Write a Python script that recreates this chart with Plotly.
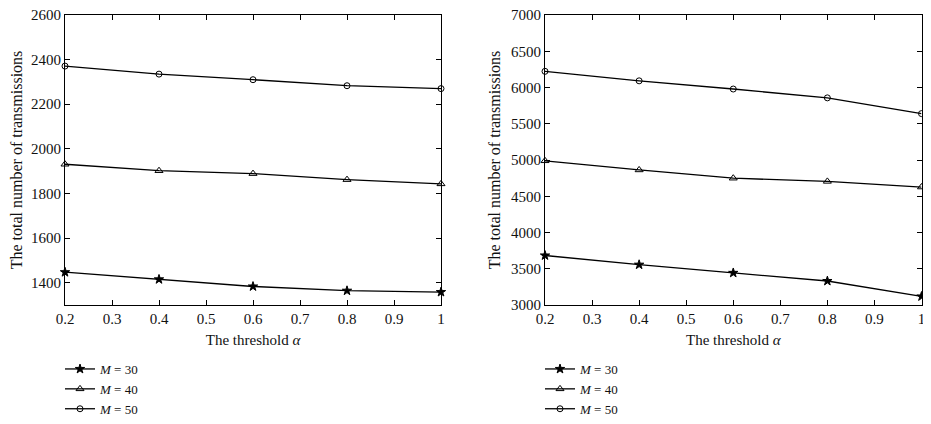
import plotly.graph_objects as go

thresholds = [0.2, 0.4, 0.6, 0.8, 1.0]

# Left panel
left_m30 = [1447, 1415, 1383, 1364, 1358]
left_m40 = [1931, 1902, 1889, 1862, 1843]
left_m50 = [2371, 2335, 2310, 2283, 2270]

# Right panel
right_m30 = [3683, 3556, 3443, 3331, 3118]
right_m40 = [4989, 4863, 4749, 4705, 4627]
right_m50 = [6223, 6092, 5979, 5857, 5640]

series_names = ["<i>M</i> = 30", "<i>M</i> = 40", "<i>M</i> = 50"]
symbols = ["star", "triangle-up-open", "circle-open"]
sizes = [7, 7, 6]

left_ticks = [1400, 1600, 1800, 2000, 2200, 2400, 2600]
right_ticks = [3000, 3500, 4000, 4500, 5000, 5500, 6000, 6500, 7000]
x_ticks = [0.2, 0.3, 0.4, 0.5, 0.6, 0.7, 0.8, 0.9, 1]
x_ticktext = ["0.2", "0.3", "0.4", "0.5", "0.6", "0.7", "0.8", "0.9", "1"]

FONT = "Liberation Serif, DejaVu Serif, serif"

# page has an 8px body margin; figure is sized/positioned to compensate
W, H = 923, 416

fig = go.Figure()

for vals, name, sym, sz in zip([left_m30, left_m40, left_m50], series_names, symbols, sizes):
    fig.add_trace(go.Scatter(
        x=thresholds, y=vals, mode="lines+markers", name=name,
        line=dict(color="black", width=1.3),
        marker=dict(symbol=sym, size=sz, color="black", line=dict(color="black", width=1)),
        xaxis="x", yaxis="y", legend="legend", cliponaxis=False,
    ))

for vals, name, sym, sz in zip([right_m30, right_m40, right_m50], series_names, symbols, sizes):
    fig.add_trace(go.Scatter(
        x=thresholds, y=vals, mode="lines+markers", name=name,
        line=dict(color="black", width=1.3),
        marker=dict(symbol=sym, size=sz, color="black", line=dict(color="black", width=1)),
        xaxis="x2", yaxis="y2", legend="legend2", cliponaxis=False,
    ))

axis_common = dict(
    showline=True, linecolor="black", linewidth=1, mirror="ticks",
    ticks="inside", ticklen=5, tickcolor="black", tickwidth=1,
    showgrid=False, zeroline=False, automargin=False,
    ticklabeloverflow="allow",
    tickfont=dict(family=FONT, size=15, color="#111"),
)

ydom = [1 - 297 / H, 1 - 7 / H]
xtitle = dict(text="The threshold <i>α</i>", font=dict(family=FONT, size=15), standoff=8)
ytitle = dict(text="The total number of transmissions", font=dict(family=FONT, size=16), standoff=6)

legend_common = dict(
    yanchor="bottom", y=0, xanchor="left",
    font=dict(family=FONT, size=13, color="#111"),
    bgcolor="rgba(0,0,0,0)", tracegroupgap=0, itemwidth=30,
)

fig.update_layout(
    width=W, height=H,
    margin=dict(l=0, r=0, t=0, b=0),
    paper_bgcolor="white", plot_bgcolor="white",
    font=dict(family=FONT, size=15, color="#111"),
    xaxis=dict(domain=[57 / W, 433 / W], range=[0.2, 1], tickvals=x_ticks, ticktext=x_ticktext,
               anchor="y", title=xtitle, **axis_common),
    yaxis=dict(domain=ydom, range=[1300, 2600], tickvals=left_ticks, anchor="x",
               title=ytitle, **axis_common),
    xaxis2=dict(domain=[537 / W, 913.5 / W], range=[0.2, 1], tickvals=x_ticks, ticktext=x_ticktext,
                anchor="y2", title=xtitle, **axis_common),
    yaxis2=dict(domain=ydom, range=[3000, 7000], tickvals=right_ticks, anchor="x2",
                title=ytitle, **axis_common),
    legend=dict(x=52 / W, **legend_common),
    legend2=dict(x=532 / W, **legend_common),
    showlegend=True,
)

fig.write_html("out.html")
